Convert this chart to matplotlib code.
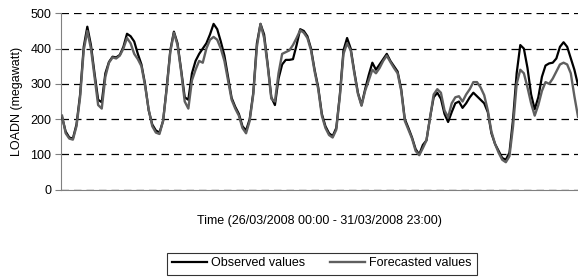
import matplotlib
matplotlib.use("Agg")
import matplotlib.pyplot as plt
import numpy as np

plt.rcParams['font.family'] = ['Liberation Sans', 'DejaVu Sans']

# hourly load, 26/03/2008 00:00 - 31/03/2008 23:00
observed = [206, 165, 148, 145, 185, 270, 405, 462, 410, 330, 255, 248,
            330, 362, 377, 375, 382, 405, 442, 435, 420, 385, 355, 300,
            225, 185, 168, 162, 195, 290, 395, 448, 415, 340, 262, 255,
            330, 365, 385, 400, 415, 440, 470, 455, 420, 380, 320, 260,
            235, 215, 180, 168, 200, 275, 415, 470, 440, 355, 262, 240,
            315, 355, 368, 368, 370, 410, 455, 450, 435, 400, 340, 290,
            215, 180, 160, 152, 175, 270, 395, 430, 400, 335, 275, 240,
            285, 325, 360, 340, 355, 370, 385, 365, 350, 335, 285, 200,
            175, 148, 115, 100, 127, 140, 205, 262, 275, 258, 215, 192,
            220, 245, 250, 232, 245, 262, 275, 265, 255, 245, 220, 160,
            130, 110, 90, 85, 105, 200, 330, 410, 400, 345, 270, 228,
            262, 320, 352, 358, 360, 372, 405, 418, 405, 372, 340, 297]

forecast = [210, 160, 145, 142, 180, 262, 395, 450, 400, 320, 240, 230,
            320, 360, 375, 372, 380, 400, 430, 415, 385, 370, 350, 295,
            228, 180, 162, 158, 195, 285, 390, 445, 410, 335, 250, 230,
            310, 340, 365, 360, 400, 425, 433, 425, 400, 365, 310, 255,
            230, 210, 175, 160, 195, 270, 405, 470, 430, 350, 258, 250,
            330, 385, 390, 395, 410, 430, 452, 445, 430, 395, 335, 285,
            210, 175, 155, 148, 170, 265, 385, 415, 395, 330, 272, 238,
            280, 310, 340, 330, 345, 365, 380, 362, 345, 330, 280, 195,
            170, 145, 110, 98, 118, 140, 205, 270, 285, 275, 225, 205,
            245, 262, 265, 250, 270, 285, 305, 305, 290, 268, 225, 165,
            130, 105, 85, 78, 95, 180, 300, 340, 330, 290, 245, 210,
            240, 280, 305, 300, 315, 335, 355, 360, 355, 330, 265, 207]

hours = np.arange(len(observed))

fig = plt.figure(figsize=(5.78, 2.77), dpi=100)
ax = fig.add_axes([0.1055, 0.315, 0.8945, 0.637])

ax.plot(hours, observed, color='black', lw=1.6, label='Observed values', zorder=3)
ax.plot(hours, forecast, color='#5f5f5f', lw=1.7, label='Forecasted values', zorder=4)

ax.set_xlim(-0.3, 143)
ax.set_ylim(0, 500)
ax.set_yticks([0, 100, 200, 300, 400, 500])
ax.set_xticks([])
ax.grid(axis='y', color='black', linestyle=(0, (6, 4)), lw=0.9)
ax.set_axisbelow(True)

ax.spines[['top', 'right']].set_visible(False)
ax.spines['left'].set_color('#808080')
ax.spines['bottom'].set_color('#808080')
ax.tick_params(axis='y', length=4, color='#808080', labelsize=9, pad=3)

ax.set_ylabel('LOADN (megawatt)', fontsize=9, labelpad=5)
ax.set_xlabel('Time (26/03/2008 00:00 - 31/03/2008 23:00)', fontsize=9, labelpad=18)

leg = fig.legend(loc='center', bbox_to_anchor=(322 / 578, 1 - 263.5 / 277), ncol=2,
                 fontsize=9, frameon=True, fancybox=False, edgecolor='black',
                 handlelength=2.8, handletextpad=0.3, columnspacing=2.0,
                 borderpad=0.4)
leg.get_frame().set_linewidth(0.8)

fig.savefig('out.png', dpi=100)
